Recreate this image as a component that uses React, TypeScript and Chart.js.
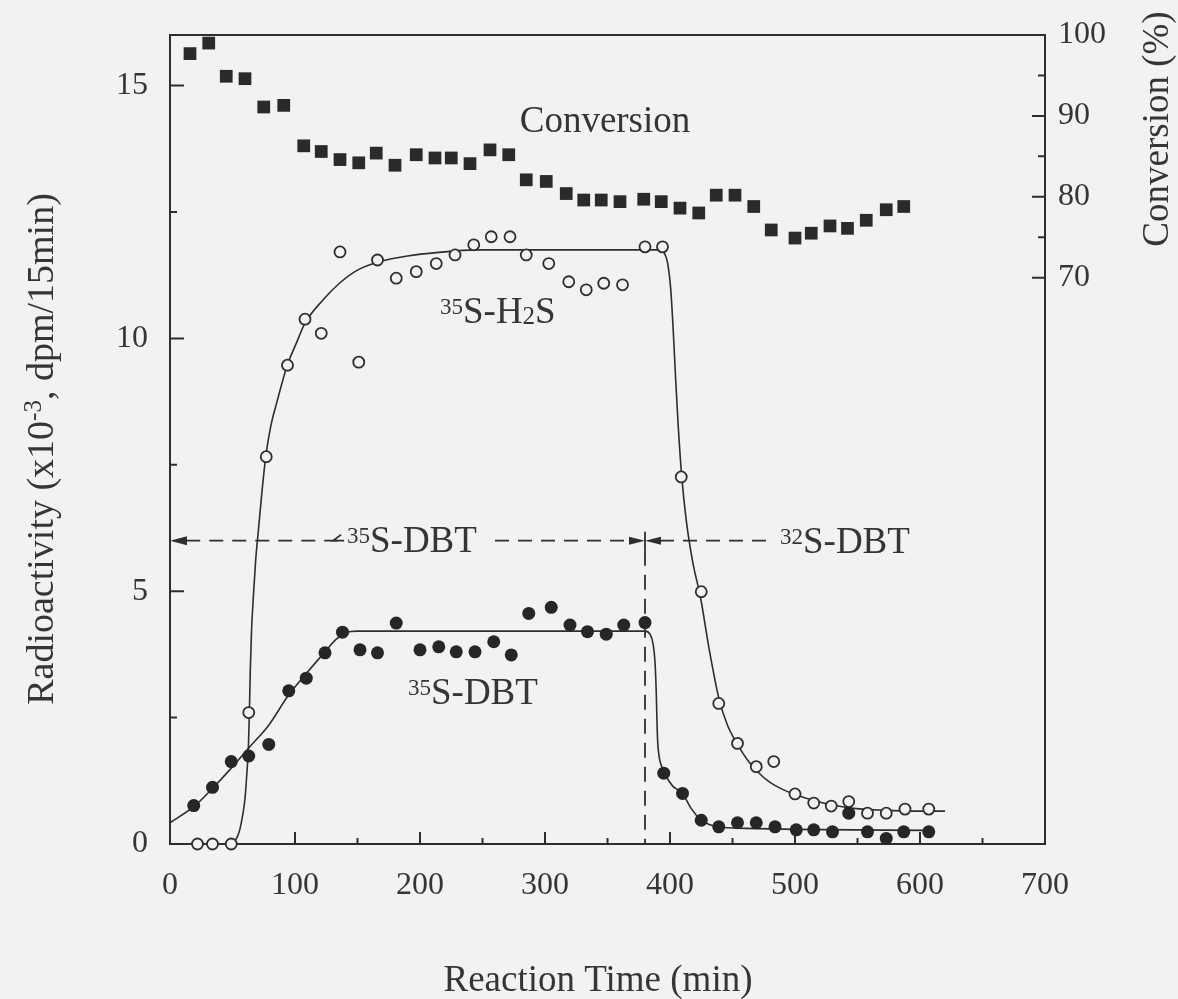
import React, { useEffect, useRef } from 'react';
import { Chart, registerables } from 'chart.js';

Chart.register(...registerables);

// ---------- data ----------
const conversionTime = [16, 31, 45, 60, 75, 91, 107, 121, 136, 151, 165, 180, 197, 212, 225, 240, 256, 271, 285, 301, 317, 331, 345, 360, 379, 393, 408, 423, 437, 452, 467, 481, 500, 513, 528, 542, 557, 573, 587];
const conversionPct = [97.7, 99.0, 94.9, 94.6, 91.1, 91.3, 86.3, 85.6, 84.6, 84.2, 85.4, 83.9, 85.2, 84.8, 84.8, 84.1, 85.8, 85.2, 82.1, 81.9, 80.4, 79.6, 79.6, 79.4, 79.7, 79.4, 78.6, 78.0, 80.2, 80.2, 78.8, 75.9, 74.9, 75.5, 76.4, 76.1, 77.1, 78.4, 78.8];

const h2sTime = [22, 34, 49, 63, 77, 94, 108, 121, 136, 151, 166, 181, 197, 213, 228, 243, 257, 272, 285, 303, 319, 333, 347, 362, 380, 394, 409, 425, 439, 454, 469, 483, 500, 515, 529, 543, 558, 573, 588, 607];
const h2sValue = [0, 0, 0, 2.6, 7.66, 9.47, 10.38, 10.1, 11.71, 9.53, 11.55, 11.19, 11.32, 11.48, 11.65, 11.85, 12.01, 12.01, 11.65, 11.48, 11.12, 10.96, 11.09, 11.06, 11.81, 11.81, 7.26, 4.99, 2.78, 1.99, 1.53, 1.63, 0.99, 0.81, 0.75, 0.84, 0.61, 0.61, 0.69, 0.69];

const dbtTime = [19, 34, 49, 63, 79, 95, 109, 124, 138, 152, 166, 181, 200, 215, 229, 244, 259, 273, 287, 305, 320, 334, 349, 363, 380, 395, 410, 425, 439, 454, 469, 484, 501, 515, 530, 543, 558, 573, 587, 607];
const dbtValue = [0.76, 1.12, 1.63, 1.74, 1.97, 3.03, 3.28, 3.78, 4.19, 3.84, 3.78, 4.37, 3.84, 3.90, 3.80, 3.80, 4.00, 3.74, 4.56, 4.68, 4.33, 4.20, 4.15, 4.33, 4.38, 1.40, 1.00, 0.47, 0.34, 0.42, 0.42, 0.34, 0.28, 0.28, 0.24, 0.61, 0.24, 0.11, 0.24, 0.24];

// fitted curves
const h2sFitTime = [0, 48, 51, 54, 56, 58, 60, 61.5, 62.7, 63.5, 64.2, 65.2, 66.7, 68.5, 70.7, 73.5, 76.6, 80.5, 85.3, 93.8, 101, 108, 122, 136, 150, 168, 190, 215, 245, 390, 395, 398, 400.5, 402.5, 404.5, 406.5, 409.4, 413, 418, 424.6, 431, 439.4, 446, 454, 462, 470, 480, 490, 500, 515, 530, 545, 570, 600, 620];
const h2sFitValue = [0, 0, 0.03, 0.15, 0.3, 0.55, 0.9, 1.4, 1.9, 2.6, 3.4, 4.2, 4.9, 5.6, 6.2, 6.95, 7.66, 8.25, 8.72, 9.47, 9.9, 10.3, 10.75, 11.1, 11.35, 11.52, 11.63, 11.7, 11.75, 11.75, 11.7, 11.5, 11.0, 10.2, 9.2, 8.3, 7.26, 6.4, 5.6, 4.85, 3.9, 2.85, 2.35, 1.97, 1.66, 1.43, 1.22, 1.08, 0.98, 0.86, 0.77, 0.71, 0.67, 0.65, 0.65];

const dbtFitTime = [0, 20, 34, 49, 63, 79, 95, 110, 124, 133, 141, 150, 380, 384, 386.5, 388, 389, 389.6, 390.2, 391.5, 393.5, 395.4, 402, 410, 417, 424.6, 432, 440, 460, 500, 607];
const dbtFitValue = [0.42, 0.76, 1.1, 1.5, 1.9, 2.35, 2.95, 3.4, 3.8, 4.05, 4.18, 4.21, 4.21, 4.15, 3.95, 3.6, 3.0, 2.4, 2.0, 1.7, 1.52, 1.4, 1.15, 1.0, 0.7, 0.48, 0.38, 0.33, 0.31, 0.29, 0.27];

// axes
const xTicks = [0, 100, 200, 300, 400, 500, 600, 700];
const xMinorTicks = [50, 150, 250, 350, 450, 550, 650];
const leftTicks = [0, 5, 10, 15];
const leftMinorTicks = [2.5, 7.5, 12.5];
const rightTicks = [70, 80, 90, 100];
const rightMinorTicks = [75, 85, 95];

// feed switch annotation
const switchTime = 380;
const feedLevel = 6.0;
const feedDashes = [[13, 134], [260, 369], [392, 484]];

// ---------- styling ----------
const BG = '#f2f2f2';
const INK = '#2e2e2e';
const TEXT = '#353535';
const FONT = "'Liberation Serif', 'Times New Roman', serif";

type Part = { t: string; s: number; dy?: number };

function drawRich(ctx: CanvasRenderingContext2D, parts: Part[], x: number, y: number, align: 'left' | 'center') {
  let total = 0;
  const widths = parts.map((p) => {
    ctx.font = `${p.s}px ${FONT}`;
    const w = ctx.measureText(p.t).width;
    total += w;
    return w;
  });
  let cx = align === 'center' ? x - total / 2 : x;
  ctx.textAlign = 'left';
  ctx.textBaseline = 'alphabetic';
  parts.forEach((p, i) => {
    ctx.font = `${p.s}px ${FONT}`;
    ctx.fillText(p.t, cx, y + (p.dy || 0));
    cx += widths[i];
  });
}

const decorPlugin = {
  id: 'decor',
  beforeDraw(chart: any) {
    const { ctx, width, height } = chart;
    ctx.save();
    ctx.fillStyle = BG;
    ctx.fillRect(0, 0, width, height);
    ctx.restore();
  },
  beforeDatasetsDraw(chart: any) {
    const { ctx, chartArea } = chart;
    const { left, right, top, bottom } = chartArea;
    const xs = chart.scales.x;
    const ys = chart.scales.y;
    const yr = chart.scales.y1;
    ctx.save();
    ctx.strokeStyle = INK;
    ctx.lineWidth = 2;
    ctx.strokeRect(left, top, right - left, bottom - top);
    ctx.beginPath();
    xTicks.forEach((v) => {
      if (v === 0 || v === 700) return;
      const p = xs.getPixelForValue(v);
      ctx.moveTo(p, bottom);
      ctx.lineTo(p, bottom - 12);
    });
    xMinorTicks.forEach((v) => {
      const p = xs.getPixelForValue(v);
      ctx.moveTo(p, bottom);
      ctx.lineTo(p, bottom - 6);
    });
    leftTicks.forEach((v) => {
      if (v === 0) return;
      const p = ys.getPixelForValue(v);
      ctx.moveTo(left, p);
      ctx.lineTo(left + 14, p);
    });
    leftMinorTicks.forEach((v) => {
      const p = ys.getPixelForValue(v);
      ctx.moveTo(left, p);
      ctx.lineTo(left + 7, p);
    });
    rightTicks.forEach((v) => {
      if (v === 100) return;
      const p = yr.getPixelForValue(v);
      ctx.moveTo(right, p);
      ctx.lineTo(right - 13, p);
    });
    rightMinorTicks.forEach((v) => {
      const p = yr.getPixelForValue(v);
      ctx.moveTo(right, p);
      ctx.lineTo(right - 7, p);
    });
    ctx.stroke();

    // feed-switch dashed lines
    const py = ys.getPixelForValue(feedLevel);
    const sx = xs.getPixelForValue(switchTime);
    ctx.lineWidth = 1.8;
    ctx.setLineDash([14, 9]);
    feedDashes.forEach(([a, b]) => {
      ctx.beginPath();
      ctx.moveTo(xs.getPixelForValue(a), py);
      ctx.lineTo(xs.getPixelForValue(b), py);
      ctx.stroke();
    });
    ctx.setLineDash([15, 9]);
    ctx.beginPath();
    ctx.moveTo(sx, py + 10);
    ctx.lineTo(sx, ys.getPixelForValue(0));
    ctx.stroke();
    ctx.setLineDash([]);
    ctx.beginPath();
    ctx.moveTo(sx, py - 9);
    ctx.lineTo(sx, py + 10);
    ctx.stroke();

    const head = (tipX: number, dir: number, len: number, half: number) => {
      ctx.beginPath();
      ctx.moveTo(tipX, py);
      ctx.lineTo(tipX - dir * len, py - half);
      ctx.lineTo(tipX - dir * len, py + half);
      ctx.closePath();
      ctx.fillStyle = INK;
      ctx.fill();
    };
    head(xs.getPixelForValue(0), -1, 17, 4.5);
    head(sx, 1, 16, 4);
    head(sx, -1, 16, 4);
    // small half barb before the 35S-DBT label
    const hx = xs.getPixelForValue(130.5);
    ctx.beginPath();
    ctx.moveTo(hx + 11, py);
    ctx.lineTo(hx, py);
    ctx.lineTo(hx + 8, py - 6);
    ctx.stroke();
    ctx.restore();
  },
  afterDatasetsDraw(chart: any) {
    const { ctx } = chart;
    const xs = chart.scales.x;
    const ys = chart.scales.y;
    ctx.save();
    ctx.fillStyle = TEXT;
    const X = (t: number) => xs.getPixelForValue(t);
    const Y = (v: number) => ys.getPixelForValue(v);
    drawRich(ctx, [{ t: 'Conversion', s: 37 }], X(348), Y(14.08), 'center');
    drawRich(ctx, [{ t: '35', s: 23, dy: -9 }, { t: 'S-H', s: 37 }, { t: '2', s: 25, dy: 1 }, { t: 'S', s: 37 }], X(216), Y(10.3), 'left');
    drawRich(ctx, [{ t: '35', s: 23, dy: -9 }, { t: 'S-DBT', s: 37 }], X(190.4), Y(2.77), 'left');
    drawRich(ctx, [{ t: '35', s: 23, dy: -9 }, { t: 'S-DBT', s: 37 }], X(141.6), Y(5.78), 'left');
    drawRich(ctx, [{ t: '32', s: 23, dy: -9 }, { t: 'S-DBT', s: 37 }], X(488), Y(5.76), 'left');

    // axis titles
    drawRich(ctx, [{ t: 'Reaction Time (min)', s: 37 }], 598, 991, 'center');
    ctx.save();
    ctx.translate(53, 449);
    ctx.rotate(-Math.PI / 2);
    drawRich(ctx, [{ t: 'Radioactivity (x10', s: 38 }, { t: '-3', s: 25, dy: -12 }, { t: ', dpm/15min)', s: 38 }], 0, 0, 'center');
    ctx.restore();
    ctx.save();
    ctx.translate(1168, 129);
    ctx.rotate(-Math.PI / 2);
    drawRich(ctx, [{ t: 'Conversion (%)', s: 37 }], 0, 0, 'center');
    ctx.restore();
    ctx.restore();
  },
};

const pts = (xsArr: number[], ysArr: number[]) => xsArr.map((x, i) => ({ x, y: ysArr[i] }));

const fitVertical = (w: number) => (s: any) => {
  s.width = w;
  s.paddingTop = 0;
  s.paddingBottom = 0;
};

export default function App() {
  const ref = useRef<HTMLCanvasElement | null>(null);
  useEffect(() => {
    if (!ref.current) return;
    const tickFont = { family: FONT, size: 32 };
    const chart = new Chart(ref.current, {
      type: 'line',
      data: {
        datasets: [
          {
            label: 'H2S fit',
            data: pts(h2sFitTime, h2sFitValue),
            yAxisID: 'y',
            borderColor: INK,
            borderWidth: 1.6,
            pointRadius: 0,
            cubicInterpolationMode: 'monotone',
            fill: false,
            order: 3,
          },
          {
            label: 'DBT fit',
            data: pts(dbtFitTime, dbtFitValue),
            yAxisID: 'y',
            borderColor: INK,
            borderWidth: 1.6,
            pointRadius: 0,
            cubicInterpolationMode: 'monotone',
            fill: false,
            order: 3,
          },
          {
            label: '35S-H2S',
            data: pts(h2sTime, h2sValue),
            yAxisID: 'y',
            showLine: false,
            pointStyle: 'circle',
            pointRadius: 5.5,
            pointBorderWidth: 1.8,
            pointBackgroundColor: BG,
            pointBorderColor: INK,
            clip: false,
            order: 2,
          },
          {
            label: '35S-DBT',
            data: pts(dbtTime, dbtValue),
            yAxisID: 'y',
            showLine: false,
            pointStyle: 'circle',
            pointRadius: 6.5,
            pointBorderWidth: 0,
            pointBackgroundColor: '#262626',
            pointBorderColor: '#262626',
            clip: false,
            order: 1,
          },
          {
            label: 'Conversion',
            data: pts(conversionTime, conversionPct),
            yAxisID: 'y1',
            showLine: false,
            pointStyle: 'rect',
            pointRadius: 9,
            pointBorderWidth: 0,
            pointBackgroundColor: '#2a2a2a',
            pointBorderColor: '#2a2a2a',
            clip: false,
            order: 1,
          },
        ],
      },
      options: {
        animation: false,
        responsive: false,
        devicePixelRatio: 1,
        events: [],
        layout: { padding: { top: 35, left: 0, right: 0, bottom: 0 } },
        plugins: { legend: { display: false }, tooltip: { enabled: false }, title: { display: false } },
        scales: {
          x: {
            type: 'linear',
            position: 'bottom',
            min: 0,
            max: 700,
            afterBuildTicks: (s: any) => { s.ticks = xTicks.map((v) => ({ value: v })); },
            afterFit: (s: any) => { s.height = 155; s.paddingLeft = 0; s.paddingRight = 0; },
            grid: { display: false, drawTicks: false },
            border: { display: false },
            ticks: { font: tickFont, color: TEXT, padding: 22, maxRotation: 0, autoSkip: false },
          },
          y: {
            type: 'linear',
            position: 'left',
            min: 0,
            max: 16,
            afterBuildTicks: (s: any) => { s.ticks = leftTicks.map((v) => ({ value: v })); },
            afterFit: fitVertical(170),
            grid: { display: false, drawTicks: false },
            border: { display: false },
            ticks: { font: tickFont, color: TEXT, padding: 22, autoSkip: false },
          },
          y1: {
            type: 'linear',
            position: 'right',
            min: 0,
            max: 100,
            afterBuildTicks: (s: any) => { s.ticks = rightTicks.map((v) => ({ value: v })); },
            afterFit: fitVertical(133),
            grid: { display: false, drawTicks: false },
            border: { display: false },
            ticks: { font: tickFont, color: TEXT, padding: 13, autoSkip: false },
          },
        },
      },
      plugins: [decorPlugin],
    } as any);
    return () => chart.destroy();
  }, []);

  return (
    <div style={{ position: 'fixed', left: 0, top: 0, width: 1178, height: 999, background: BG }}>
      <canvas ref={ref} width={1178} height={999} style={{ display: 'block', width: 1178, height: 999 }} />
    </div>
  );
}
